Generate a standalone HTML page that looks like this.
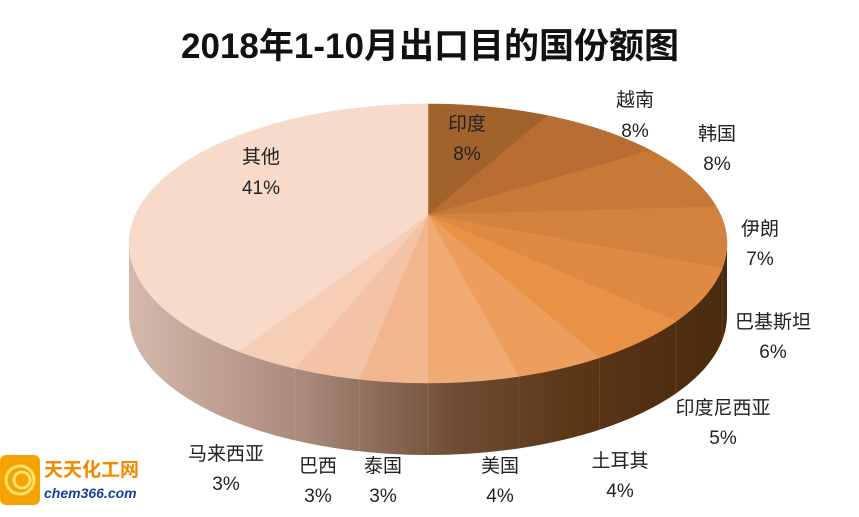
<!DOCTYPE html>
<html><head><meta charset="utf-8"><style>
body{margin:0;background:#fff;width:859px;height:512px;overflow:hidden;font-family:"Liberation Sans","Noto Sans CJK SC",sans-serif}
</style></head><body>
<svg id="s" width="859" height="512" xmlns="http://www.w3.org/2000/svg">
<defs>
<linearGradient id="side" x1="127" y1="0" x2="727" y2="0" gradientUnits="userSpaceOnUse">
<stop offset="0" stop-color="#d6b9ad"/><stop offset="0.3" stop-color="#a8887a"/><stop offset="0.55" stop-color="#6e4c34"/><stop offset="0.75" stop-color="#5a3616"/><stop offset="1" stop-color="#4a2a0e"/>
</linearGradient>
</defs>
<text x="430" y="58" text-anchor="middle" font-size="35" font-weight="bold" fill="#111" font-family="Liberation Sans,Noto Sans CJK SC,sans-serif">2018年1-10月出口目的国份额图</text>
<g id="pie"></g>
<g font-size="19" fill="#222" text-anchor="middle">
<text x="467" y="130">印度</text><text x="467" y="160">8%</text>
<text x="635" y="106">越南</text><text x="635" y="137">8%</text>
<text x="717" y="140">韩国</text><text x="717" y="170">8%</text>
<text x="760" y="235">伊朗</text><text x="760" y="265">7%</text>
<text x="773" y="328">巴基斯坦</text><text x="773" y="358">6%</text>
<text x="723" y="414">印度尼西亚</text><text x="723" y="444">5%</text>
<text x="620" y="467">土耳其</text><text x="620" y="497">4%</text>
<text x="500" y="472">美国</text><text x="500" y="502">4%</text>
<text x="383" y="472">泰国</text><text x="383" y="502">3%</text>
<text x="318" y="472">巴西</text><text x="318" y="502">3%</text>
<text x="226" y="460">马来西亚</text><text x="226" y="490">3%</text>
<text x="261" y="163">其他</text><text x="261" y="194">41%</text>
</g>
<g>
<rect x="0" y="455" width="40" height="50" rx="6" fill="#f5a300"/>
<circle cx="20" cy="480" r="14" fill="none" stroke="#ffe070" stroke-width="3"/>
<circle cx="22" cy="480" r="8" fill="none" stroke="#ffe070" stroke-width="3"/>
<text x="44" y="476" font-size="19" font-weight="bold" fill="#f08a00">天天化工网</text>
<text x="44" y="498" font-size="14" font-weight="bold" font-style="italic" fill="#1a3f9a">chem366.com</text>
</g>
</svg>
<script>
var cx=428,cy=215,R=292.7,H=133.7,k=0.204,d=72;
var data=[8,8,8,7,6,5,4,4,3,3,3,41];
var col=["#a2622c","#b86e32","#c77a38","#d3823e","#df8a42","#e99246","#ed9d5c","#f0aa74","#f2b68e","#f4c2a4","#f6cdb5","#f8dacb"];
function P(t,dy){var z=1+k*Math.cos(t);return [cx+R*Math.sin(t)/z,cy-H*Math.cos(t)/z+(dy||0)];}
var g=document.getElementById('pie'),h='';
var a=Math.acos(-k),b=2*Math.PI-a,n=100,pts=[];
for(var i=0;i<=n;i++){var p=P(a+(b-a)*i/n);pts.push(p[0].toFixed(1)+','+p[1].toFixed(1));}
for(var i=n;i>=0;i--){var p=P(a+(b-a)*i/n,d);pts.push(p[0].toFixed(1)+','+p[1].toFixed(1));}
h+='<polygon points="'+pts.join(' ')+'" fill="url(#side)"/>';
var acc=0;
for(var k2=0;k2<data.length;k2++){acc+=data[k2];var t=acc/100*2*Math.PI;
 if(t>a&&t<b){var p=P(t);h+='<line x1="'+p[0]+'" y1="'+p[1]+'" x2="'+p[0]+'" y2="'+(p[1]+d)+'" stroke="rgba(255,255,255,0.1)"/>';}}
acc=0;
for(var j=0;j<data.length;j++){var t0=acc/100*2*Math.PI;acc+=data[j];var t1=acc/100*2*Math.PI;
 var q=[cx+','+cy];for(var i=0;i<=40;i++){var p=P(t0+(t1-t0)*i/40);q.push(p[0].toFixed(1)+','+p[1].toFixed(1));}
 h+='<polygon points="'+q.join(' ')+'" fill="'+col[j]+'" stroke="'+col[j]+'" stroke-width="0.5"/>';}
g.innerHTML=h;
</script>
</body></html>
